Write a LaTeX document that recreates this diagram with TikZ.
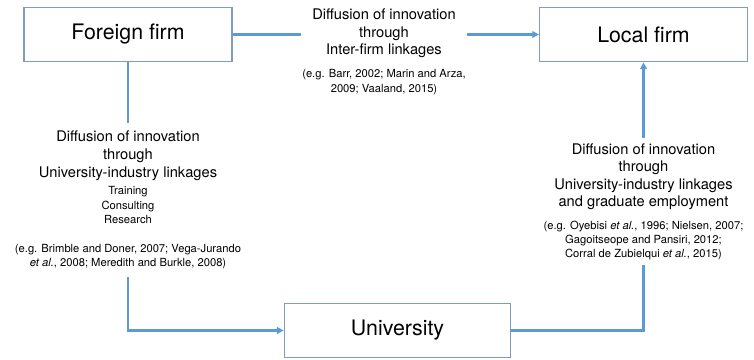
\documentclass[tikz,border=0pt]{standalone}
\usepackage{fontspec}
\setmainfont{TeX Gyre Heros}
\usepackage{tikz}
\usetikzlibrary{arrows.meta,positioning,calc}
\definecolor{cLine}{HTML}{5b9bd5}
\definecolor{cBox}{HTML}{7f9cc0}
\newcommand{\mainsize}{\fontsize{11}{13.2}\selectfont}
\newcommand{\refsize}{\fontsize{8.4}{10.6}\selectfont}
\tikzset{
  firmbox/.style={draw=cBox,line width=0.8pt,fill=white,minimum width=156pt,
    minimum height=41pt,inner sep=0pt,font=\fontsize{16}{19}\selectfont},
  flowtext/.style={align=center,inner xsep=1pt,inner ysep=4pt,font=\mainsize},
  link/.style={draw=cLine,line width=2pt},
  flow/.style={link,-{Triangle[length=5pt,width=5pt]}},
}
\begin{document}
\begin{tikzpicture}[x=0.75pt,y=-0.75pt]
  \useasboundingbox (0,0) rectangle (754,360);
  \node[firmbox] (foreign) at (128,34.5) {Foreign firm};
  \node[firmbox] (local) at (643.5,34.5) {Local firm};
  \node[firmbox,minimum width=170pt] (univ) at (397.5,330.5) {University};
  % labels on the three channels
  \node[flowtext] (interfirm) at (384,52) {Diffusion of innovation\\through\\Inter-firm linkages\\[4pt]
    {\refsize (e.g. Barr, 2002; Marin and Arza,}\\[-1.9pt]{\refsize 2009; Vaaland, 2015)}};
  \node[flowtext,inner ysep=6pt] (uilinks) at (128,200) {Diffusion of innovation\\through\\University-industry linkages\\
    {\refsize Training}\\[-2.3pt]{\refsize Consulting}\\[-2.3pt]{\refsize Research}\\[8.2pt]
    {\refsize (e.g. Brimble and Doner, 2007; Vega-Jurando}\\[-2.7pt]{\refsize \textit{et al.}, 2008; Meredith and Burkle, 2008)}};
  \node[flowtext] (grademp) at (643.5,201.5) {Diffusion of innovation\\through\\University-industry linkages\\and graduate employment\\[4pt]
    {\refsize (e.g. Oyebisi \textit{et al.}, 1996; Nielsen, 2007;}\\[-2.9pt]{\refsize Gagoitseope and Pansiri, 2012;}\\[-2.9pt]
    {\refsize Corral de Zubielqui \textit{et al.}, 2015)}};
  % connectors
  \draw[link] (foreign.east) -- (foreign.east -| interfirm.west);
  \draw[flow] (interfirm.east |- local.west) -- (local.west);
  \draw[link] (foreign.south) -- (uilinks.north);
  \draw[flow] (uilinks.south) |- (univ.west);
  \draw[link] (univ.east) -| (grademp.south);
  \draw[flow] (grademp.north) -- (local.south);
\end{tikzpicture}
\end{document}
